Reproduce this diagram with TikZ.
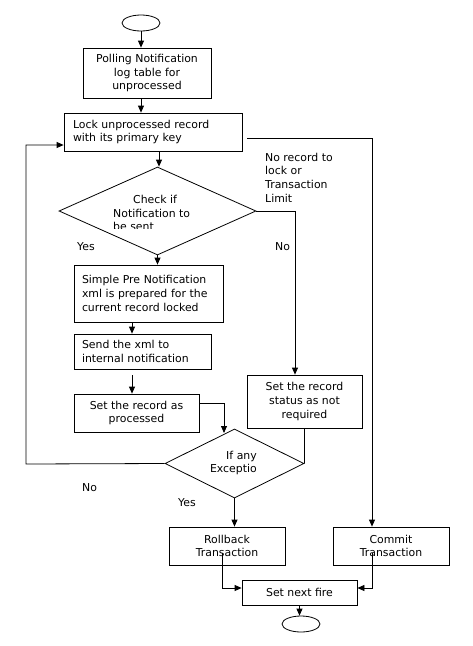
\documentclass[tikz,border=0pt]{standalone}
\usepackage{fontspec}
\setmainfont{DejaVu Sans}
\usetikzlibrary{shapes.geometric,arrows.meta,calc}
\begin{document}
\begin{tikzpicture}[x=1pt,y=-1pt,
  every node/.style={font=\fontsize{10.9}{13.6}\selectfont},
  box/.style={draw, line width=0.8pt, rectangle, inner sep=0pt},
  dia/.style={draw, line width=0.8pt, diamond, inner sep=0pt},
  term/.style={draw, line width=0.8pt, ellipse, inner sep=0pt, minimum width=38pt, minimum height=16pt},
  lbl/.style={inner sep=0pt, align=left},
  ln/.style={line width=0.8pt},
  arr/.style={line width=0.8pt, -{Triangle[length=7pt,width=6pt]}}]
\useasboundingbox[fill=white] (0,0) rectangle (472,646);

% terminals
\node[term] (start) at (141,23) {};
\node[term] (stop) at (301,624) {};

% boxes
\node[box, minimum width=128pt, minimum height=50pt, align=center] (b1) at (147,73) {Polling Notification\\log table for\\unprocessed};
\node[box, minimum width=178pt, minimum height=38pt, text width=160pt, align=left] (b2) at (153,132) {Lock unprocessed record\\with its primary key};
\node[box, minimum width=149pt, minimum height=57pt, text width=133pt, align=left] (b3) at (148.5,293.5) {Simple Pre Notification\\xml is prepared for the\\current record locked};
\node[box, minimum width=137pt, minimum height=35pt, text width=121pt, align=left] (b4) at (142.5,351.5) {Send the xml to\\internal notification};
\node[box, minimum width=125pt, minimum height=38pt, align=center] (b5) at (136.5,413) {Set the record as\\processed};
\node[box, minimum width=115pt, minimum height=53pt, align=center] (b6) at (304.5,401.5) {Set the record\\status as not\\required};
\node[box, minimum width=116pt, minimum height=38pt, align=center] (rb) at (227,546) {Rollback\\Transaction};
\node[box, minimum width=116pt, minimum height=38pt, align=center] (cm) at (391,546) {Commit\\Transaction};
\node[box, minimum width=115pt, minimum height=25pt, align=center] (nf) at (299.5,592.5) {Set next fire};

% decisions
\node[dia, minimum width=197pt, minimum height=88pt] (d1) at (157.5,211) {};
\begin{scope}
  \clip (100,185) rectangle (230,228);
  \node[lbl, anchor=west] (d1t) at (113,213) {\hspace*{20pt}Check if\\Notification to\\be sent};
\end{scope}
\node[dia, minimum width=139pt, minimum height=69pt] (d2) at (234.5,463.5) {};
\node[inner sep=0pt, align=right, anchor=east] (d2t) at (257,463) {If any\\Exceptio};

% labels
\node[lbl, anchor=west] (l1) at (265,177.5) {No record to\\lock or\\Transaction\\Limit};
\node[lbl, anchor=west] (l2) at (275,247) {No};
\node[lbl, anchor=west] (l3) at (77,247) {Yes};
\node[lbl, anchor=west] (l4) at (82,488) {No};
\node[lbl, anchor=west] (l5) at (178,503) {Yes};

% coordinates
\coordinate (c1) at (372,138);
\coordinate (c2) at (26,145);
\coordinate (c3) at (26,464);
\coordinate (c4) at (295,211);
\coordinate (c5) at (224,403);
\coordinate (c6) at (224,433);
\coordinate (c7) at (222,553);
\coordinate (c8) at (222,588);
\coordinate (c9) at (372,553);
\coordinate (c10) at (372,588);
\coordinate (c11) at (247,138);
\coordinate (c12) at (132,375);

% connectors
\draw[arr] (start.south) -- (start.south |- b1.north);
\draw[arr] (b1.south -| start.south) -- (b2.north -| start.south);
\draw[arr] (c11) -- (c1) -- (c1 |- cm.north);
\draw[arr] (d2.west) -- (c3) -- (c2) -- (b2.west |- c2);
\draw[arr] (b2.south -| 159,0) -- (d1.north -| 159,0);
\draw[arr] (d1.east) -- (c4) -- (c4 |- b6.north);
\draw[arr] (d1.south) -- (d1.south |- b3.north);
\draw[arr] (b3.south -| c12) -- (b4.north -| c12);
\draw[arr] (c12) -- (b5.north -| c12);
\draw[arr] (b5.east |- c5) -- (c5) -- (c6);
\draw[ln] (b6.south) -- (d2.east);
\draw[arr] (d2.south) -- (d2.south |- rb.north);
\draw[arr] (c7) -- (c8) -- (nf.west |- c8);
\draw[arr] (c9) -- (c10) -- (nf.east |- c10);
\draw[arr] (nf.south) -- (nf.south |- stop.north);
\end{tikzpicture}
\end{document}
